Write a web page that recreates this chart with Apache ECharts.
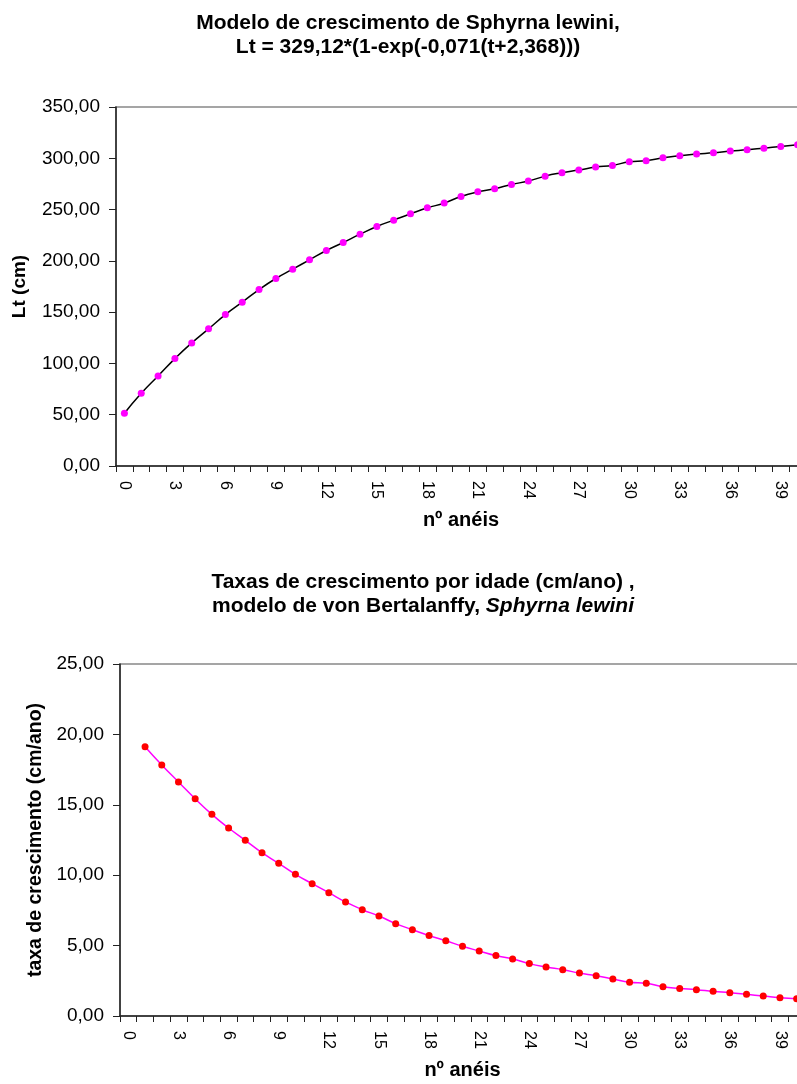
<!DOCTYPE html>
<html>
<head>
<meta charset="utf-8">
<script src="https://cdn.jsdelivr.net/npm/echarts@6/dist/echarts.min.js"></script>
<style>
html,body{margin:0;padding:0;background:#fff;overflow:hidden;}
#c{width:812px;height:1084px;}
</style>
</head>
<body>
<div id="c"></div>
<script>
var categories = ['0','1','2','3','4','5','6','7','8','9','10','11','12','13','14','15','16','17','18','19','20',
  '21','22','23','24','25','26','27','28','29','30','31','32','33','34','35','36','37','38','39','40'];

var lengthValues = [51.4, 70.9, 87.8, 104.7, 120.0, 133.7, 147.6, 159.7, 172.0, 182.8, 191.9,
  201.0, 210.1, 217.9, 226.0, 233.5, 239.7, 245.9, 251.7, 256.3, 262.8,
  267.3, 270.3, 274.5, 277.8, 282.6, 285.9, 288.5, 291.4, 293.0, 296.6,
  297.6, 300.5, 302.5, 304.1, 305.4, 307.0, 308.3, 309.9, 311.5, 313.2];

var rateValues = [null, 19.13, 17.83, 16.62, 15.43, 14.32, 13.35, 12.48, 11.60, 10.84, 10.06,
  9.40, 8.76, 8.10, 7.55, 7.10, 6.56, 6.13, 5.71, 5.35, 4.95,
  4.62, 4.29, 4.05, 3.72, 3.48, 3.29, 3.05, 2.86, 2.63, 2.39,
  2.32, 2.08, 1.96, 1.87, 1.75, 1.65, 1.54, 1.42, 1.30, 1.23];

var topTitle = 'Modelo de crescimento de Sphyrna lewini,\nLt = 329,12*(1-exp(-0,071(t+2,368)))';
var bottomTitleLine1 = 'Taxas de crescimento por idade (cm/ano) ,';
var bottomTitleLine2a = 'modelo de von Bertalanffy, ';
var bottomTitleLine2b = 'Sphyrna lewini';
var xName = 'nº anéis';
var yNameTop = 'Lt (cm)';
var yNameBottom = 'taxa de crescimento (cm/ano)';

var FONT = "'Liberation Sans', Arial, sans-serif";

function fmt(v){ return v.toFixed(2).replace('.', ','); }

function xAxisCfg(gridIndex){
  return {
    type: 'category', gridIndex: gridIndex, data: categories, boundaryGap: true,
    name: xName, nameLocation: 'middle', nameGap: 44,
    nameTextStyle: {fontFamily: FONT, fontWeight: 'bold', fontSize: 20, color: '#000'},
    axisLine: {show: true, lineStyle: {color: '#222', width: 1.5}},
    axisTick: {show: true, interval: 0, length: 6, lineStyle: {color: '#222', width: 1}},
    axisLabel: {interval: 2, rotate: -90, fontSize: 16, fontFamily: FONT, color: '#000', margin: 15},
    splitLine: {show: false}
  };
}

var option = {
  backgroundColor: '#fff',
  animation: false,
  title: [
    {text: topTitle, left: 403, top: 6, textAlign: 'center',
     textStyle: {fontFamily: FONT, fontWeight: 'bold', fontSize: 21, lineHeight: 24, color: '#000'}},
    {text: bottomTitleLine1 + '\n{n|' + bottomTitleLine2a + '}{i|' + bottomTitleLine2b + '}',
     left: 418, top: 565, textAlign: 'center',
     textStyle: {fontFamily: FONT, fontWeight: 'bold', fontSize: 21, lineHeight: 24, color: '#000',
       rich: {
         n: {fontFamily: FONT, fontWeight: 'bold', fontSize: 21, lineHeight: 24, color: '#000'},
         i: {fontFamily: FONT, fontWeight: 'bold', fontStyle: 'italic', fontSize: 21, lineHeight: 24, color: '#000'}
       }}}
  ],
  grid: [
    {left: 116, top: 107, width: 690, height: 359, show: true, borderColor: '#888', borderWidth: 1.5, backgroundColor: 'transparent'},
    {left: 120, top: 664, width: 685, height: 352, show: true, borderColor: '#888', borderWidth: 1.5, backgroundColor: 'transparent'}
  ],
  xAxis: [xAxisCfg(0), xAxisCfg(1)],
  yAxis: [
    {type: 'value', gridIndex: 0, min: 0, max: 350, interval: 50,
     name: yNameTop, nameLocation: 'middle', nameGap: 87,
     nameTextStyle: {fontFamily: FONT, fontWeight: 'bold', fontSize: 19, color: '#000'},
     axisLine: {show: true, lineStyle: {color: '#222', width: 1.5}},
     axisTick: {show: true, length: 7, lineStyle: {color: '#222', width: 1}},
     axisLabel: {formatter: fmt, fontSize: 19, fontFamily: FONT, color: '#000', margin: 16},
     splitLine: {show: false}},
    {type: 'value', gridIndex: 1, min: 0, max: 25, interval: 5,
     name: yNameBottom, nameLocation: 'middle', nameGap: 74,
     nameTextStyle: {fontFamily: FONT, fontWeight: 'bold', fontSize: 19.5, color: '#000'},
     axisLine: {show: true, lineStyle: {color: '#222', width: 1.5}},
     axisTick: {show: true, length: 7, lineStyle: {color: '#222', width: 1}},
     axisLabel: {formatter: fmt, fontSize: 19, fontFamily: FONT, color: '#000', margin: 16},
     splitLine: {show: false}}
  ],
  series: [
    {type: 'line', xAxisIndex: 0, yAxisIndex: 0, data: lengthValues, smooth: true,
     symbol: 'circle', symbolSize: 7,
     lineStyle: {color: '#000', width: 1.5},
     itemStyle: {color: '#FF00FF', borderWidth: 0}},
    {type: 'line', xAxisIndex: 1, yAxisIndex: 1, data: rateValues, smooth: true,
     symbol: 'circle', symbolSize: 7,
     lineStyle: {color: '#FF00FF', width: 1.5},
     itemStyle: {color: '#FF0000', borderWidth: 0}}
  ]
};

var chart = echarts.init(document.getElementById('c'), null, {renderer: 'canvas', width: 812, height: 1084});
chart.setOption(option);
</script>
</body>
</html>
